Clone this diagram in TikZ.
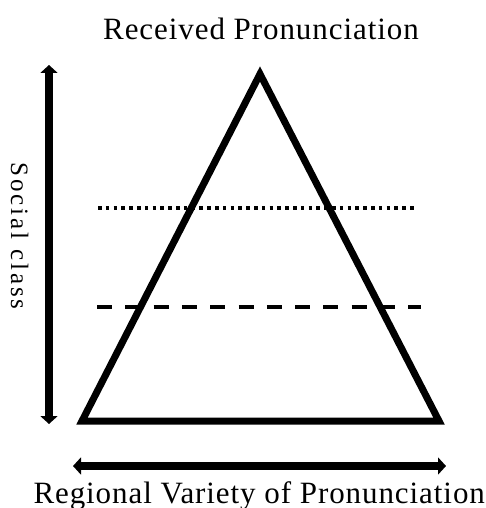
\documentclass[tikz,border=0pt]{standalone}
\usepackage{fontspec}
\setmainfont{Liberation Serif}
\newfontfamily\labelfont[LetterSpace=3]{Liberation Serif}
\newfontfamily\sidefont[LetterSpace=12]{Liberation Serif}
\usetikzlibrary{arrows.meta}

\begin{document}
\begin{tikzpicture}[x=1pt, y=-1pt, line width=7pt, >={Triangle[length=8pt,width=17pt]},
	level/.style={line width=3.5pt, dash pattern=on 3.5pt off 4.3pt},
	border/.style={line width=4pt, dash pattern=on 15pt off 13.3pt},
	title/.style={font=\labelfont\fontsize{31}{37}\selectfont, anchor=base, inner sep=0pt}]
	\useasboundingbox (0,0) rectangle (486,508);

	% pyramid
	\coordinate (apex) at (260,74);
	\coordinate (baseL) at (82,421);
	\coordinate (baseR) at (439,421);
	\draw[line join=miter] (apex) -- (baseL) -- (baseR) -- cycle;

	% levels
	\coordinate (dotL) at (98,208);
	\coordinate (dotR) at (414,208);
	\coordinate (dashL) at (97,307);
	\coordinate (dashR) at (421,307);
	\draw[level] (dotL) -- (dotR);
	\draw[border] (dashL) -- (dashR);

	% axes
	\coordinate (classTop) at (49,65);
	\coordinate (classBot) at (49,424);
	\coordinate (regL) at (73,466);
	\coordinate (regR) at (446,466);
	\draw[<->, line width=7.5pt] (classTop) -- (classBot);
	\draw[<->, line width=7.5pt] (regL) -- (regR);

	\node[title] (rp) at (261,40) {Received Pronunciation};
	\node[title, anchor=base west] (region) at (30,503) {Regional Variety of Pronunciation};
	\node[font=\sidefont\fontsize{25}{30}\selectfont, rotate=-90, anchor=base, inner sep=0pt] (social) at (11,236) {Social class};
\end{tikzpicture}
\end{document}
